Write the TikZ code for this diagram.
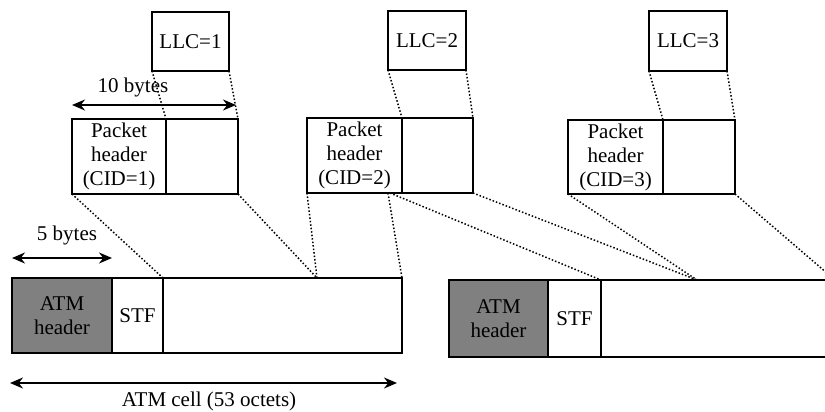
\documentclass[tikz,border=0pt]{standalone}
\usepackage{fontspec}
\setmainfont{Liberation Serif}
\usetikzlibrary{arrows.meta,calc}
\begin{document}
\begin{tikzpicture}[x=1pt,y=-1pt,
  txt/.style={font=\fontsize{21}{24}\selectfont},
  box/.style={draw, line width=1.7pt, inner sep=0pt, outer sep=0pt, anchor=north west, align=center, txt},
  cellpart/.style={box, line width=1.2pt},
  hdr/.style={cellpart, fill=black!50, text=black},
  outline/.style={draw, line width=2.8pt},
  dots/.style={dotted, line width=1.5pt},
  dimarrow/.style={{Stealth[length=13pt,width=11pt]}-{Stealth[length=13pt,width=11pt]}, line width=1.7pt},
  lbl/.style={txt, inner sep=0pt}]
\useasboundingbox (0,0) rectangle (825,412);
\clip (0,0) rectangle (825,412);

% LLC boxes
\node[box, minimum width=77pt, minimum height=59pt] (llc1) at (152,12) {LLC=1};
\node[box, minimum width=78pt, minimum height=59pt] (llc2) at (388,11) {LLC=2};
\node[box, minimum width=78pt, minimum height=60pt] (llc3) at (649,11) {LLC=3};

% Packets
\node[box, minimum width=94pt, minimum height=75pt] (p1l) at (72,119) {Packet\\header\\(CID=1)};
\node[box, minimum width=72pt, minimum height=75pt] (p1r) at (166,119) {};
\node[box, minimum width=95pt, minimum height=75pt] (p2l) at (307,118) {Packet\\header\\(CID=2)};
\node[box, minimum width=71pt, minimum height=75pt] (p2r) at (402,118) {};
\node[box, minimum width=95pt, minimum height=74pt] (p3l) at (568,120) {Packet\\header\\(CID=3)};
\node[box, minimum width=72pt, minimum height=74pt] (p3r) at (663,120) {};

% ATM cell 1
\node[hdr, minimum width=100pt, minimum height=75pt] (c1h) at (12,278) {ATM\\header};
\node[cellpart, minimum width=51pt, minimum height=75pt] (c1s) at (112,278) {STF};
\node[cellpart, minimum width=239pt, minimum height=75pt] (c1p) at (163,278) {};
\draw[outline] (c1h.north west) rectangle (c1p.south east);

% ATM cell 2
\node[hdr, minimum width=99pt, minimum height=77pt] (c2h) at (449,280) {ATM\\header};
\node[cellpart, minimum width=53pt, minimum height=77pt] (c2s) at (548,280) {STF};
\node[cellpart, minimum width=250pt, minimum height=77pt] (c2p) at (601,280) {};
\draw[outline] (c2h.north west) rectangle (c2p.south east);

% junction coordinates
\coordinate (j1) at (317,278);
\coordinate (p2a) at (388,193);
\coordinate (p2b) at (390,193);
\coordinate (j2) at (697,280);
\coordinate (j3) at (835,280);

% dotted connectors LLC -> packet
\draw[dots] (llc1.south west) -- (p1l.north east);
\draw[dots] (llc1.south east) -- (p1r.north east);
\draw[dots] (llc2.south west) -- (p2l.north east);
\draw[dots] (llc2.south east) -- (p2r.north east);
\draw[dots] (llc3.south west) -- (p3l.north east);
\draw[dots] (llc3.south east) -- (p3r.north east);

% dotted connectors packet -> cells
\draw[dots] (p1l.south west) -- (c1s.north east);
\draw[dots] (p1r.south east) -- (j1);
\draw[dots] (p2l.south west) -- (j1);
\draw[dots] (p2a) -- (c1p.north east);
\draw[dots] (p2b) -- (c2s.north east);
\draw[dots] (p2r.south east) -- (j2);
\draw[dots] (p3l.south west) -- (j2);
\draw[dots] (p3r.south east) -- (j3);

% dimension arrows
\coordinate (a10l) at (72,105);
\coordinate (a10r) at (236,105);
\coordinate (a5l) at (12,258);
\coordinate (a5r) at (112,258);
\coordinate (acl) at (10,383);
\coordinate (acr) at (397,383);
\draw[dimarrow] (a10l) -- (a10r);
\draw[dimarrow] (a5l) -- (a5r);
\draw[dimarrow] (acl) -- (acr);

\node[lbl] (l10) at (133,87) {10 bytes};
\node[lbl] (l5) at (67,235) {5 bytes};
\node[lbl] (lcell) at (209,401) {ATM cell (53 octets)};
\end{tikzpicture}
\end{document}
